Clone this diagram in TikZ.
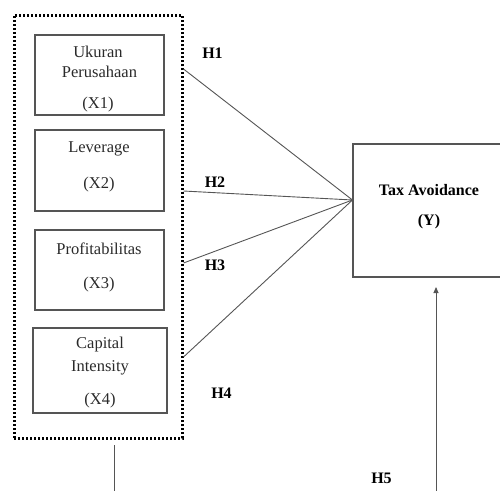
\documentclass[tikz,border=0pt]{standalone}
\usepackage{fontspec}
\setmainfont{Liberation Serif}
\usetikzlibrary{arrows.meta}
\definecolor{ln}{HTML}{555555}
\definecolor{tx}{HTML}{2A2A2A}
\begin{document}
\begin{tikzpicture}[x=1pt,y=-1pt,
  varbox/.style={draw=ln,line width=1.1pt,rectangle,inner sep=0pt},
  lbl/.style={text=tx,font=\fontsize{16.5}{18}\selectfont,inner sep=0pt,anchor=base},
  hyp/.style={text=black,font=\fontsize{16}{18}\selectfont\bfseries,inner sep=0pt,anchor=base},
  conn/.style={draw=ln,line width=0.9pt},
  group/.style={draw=black,line width=3pt,dash pattern=on 2.4pt off 1.6pt}]
\useasboundingbox (0,0) rectangle (500,490);
% outer dotted group
\node[group,rectangle,minimum width=168pt,minimum height=423pt,inner sep=0pt] (grp) at (98,226.5) {};
% variable boxes
\node[varbox,minimum width=129pt,minimum height=80pt] (x1) at (99.5,75) {};
\node[varbox,minimum width=129pt,minimum height=81pt] (x2) at (99.5,170.5) {};
\node[varbox,minimum width=129pt,minimum height=80pt] (x3) at (99.5,270) {};
\node[varbox,minimum width=134pt,minimum height=85pt] (x4) at (100,370.5) {};
\node[varbox,minimum width=152pt,minimum height=133pt] (y) at (429,210.5) {};
% texts
\node[lbl] (t1a) at (98,57) {Ukuran};
\node[lbl] (t1b) at (99.5,77) {Perusahaan};
\node[lbl] (t1c) at (98,108) {(X1)};
\node[lbl] (t2a) at (99,152) {Leverage};
\node[lbl] (t2b) at (99,188) {(X2)};
\node[lbl] (t3a) at (99,254) {Profitabilitas};
\node[lbl] (t3b) at (99,288) {(X3)};
\node[lbl] (t4a) at (100,348) {Capital};
\node[lbl] (t4b) at (100,371) {Intensity};
\node[lbl] (t4c) at (100,404) {(X4)};
\node[hyp] (ty1) at (429,195) {Tax Avoidance};
\node[hyp] (ty2) at (429,225) {(Y)};
% hypothesis labels
\node[hyp] (h1) at (212.5,58) {H1};
\node[hyp] (h2) at (215,187) {H2};
\node[hyp] (h3) at (215,270) {H3};
\node[hyp] (h4) at (221.5,398) {H4};
\node[hyp] (h5) at (381.5,483) {H5};
% connector points
\coordinate (p1) at (grp.east |- 0,69);
\coordinate (p2) at (grp.east |- 0,191);
\coordinate (p3) at (grp.east |- 0,263);
\coordinate (p4) at (grp.east |- 0,357);
\coordinate (yin) at (y.west |- 0,200);
\draw[conn] (p1) -- (yin);
\draw[conn] (p2) -- (yin);
\draw[conn] (p3) -- (yin);
\draw[conn] (p4) -- (yin);
% H5 path
\coordinate (g1) at (114,445);
\coordinate (g2) at (114,492);
\draw[conn] (g1) -- (g2);
\coordinate (a1) at (436,492);
\coordinate (a2) at (436,287);
\draw[conn,-{Triangle[length=6pt,width=5pt]}] (a1) -- (a2);
\end{tikzpicture}
\end{document}
